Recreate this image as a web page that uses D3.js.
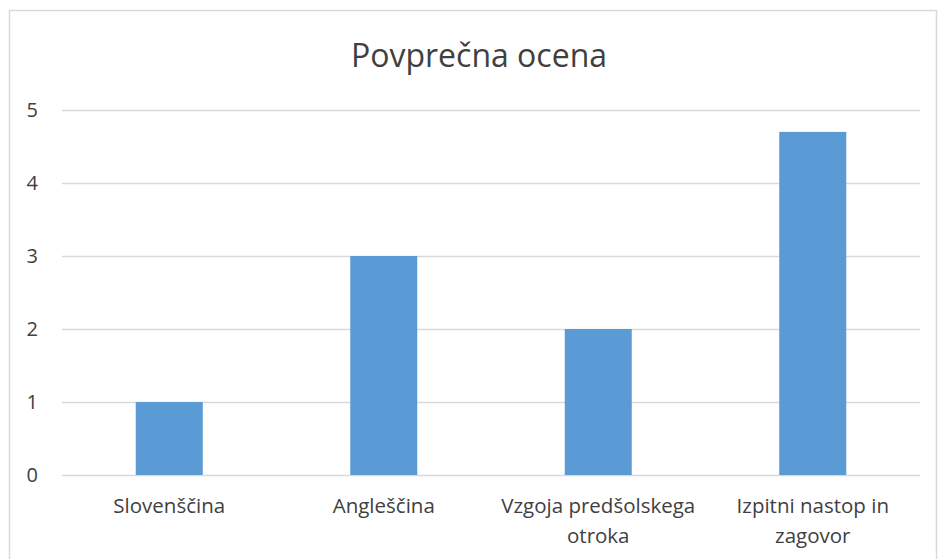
<!DOCTYPE html>
<html>
<head>
<meta charset="utf-8">
<script src="https://cdn.jsdelivr.net/npm/d3@7"></script>
<style>
  body { margin: 0; background: #fff; }
  text { font-family: "Open Sans", "Liberation Sans", sans-serif; fill: #404040; }
</style>
</head>
<body>
<div id="chart"></div>
<script>
// data
var categories = ["Slovenščina", "Angleščina", "Vzgoja predšolskega otroka", "Izpitni nastop in zagovor"];
var labelLines = [["Slovenščina"], ["Angleščina"], ["Vzgoja predšolskega", "otroka"], ["Izpitni nastop in", "zagovor"]];
var values = [1, 3, 2, 4.7];
var yTicks = [0, 1, 2, 3, 4, 5];
var title = "Povprečna ocena";

var W = 938, H = 559;
var margin = {top: 110, right: 18, bottom: 84, left: 62},
    width = W - margin.left - margin.right,
    height = H - margin.top - margin.bottom;

var root = d3.select("#chart")
  .append("svg")
    .attr("width", W)
    .attr("height", H);

// outer border
root.append("rect")
  .attr("x", 9.5).attr("y", 10.5)
  .attr("width", 927).attr("height", 560)
  .attr("fill", "none")
  .attr("stroke", "#d9d9d9")
  .attr("stroke-width", 1.5);

root.append("text")
  .attr("x", 479).attr("y", 67)
  .attr("text-anchor", "middle")
  .style("font-size", "32px")
  .text(title);

var svg = root.append("g")
  .attr("transform", "translate(" + margin.left + "," + margin.top + ")");

var x = d3.scaleBand()
  .domain(categories)
  .range([0, width])
  .paddingInner(0.6875)
  .paddingOuter(0.34375);

var y = d3.scaleLinear()
  .domain([0, 5])
  .range([height, 0]);

// gridlines
svg.selectAll("line.grid")
  .data(yTicks)
  .enter()
  .append("line")
    .attr("x1", 0)
    .attr("x2", width)
    .attr("y1", function(d) { return y(d) + 0.5; })
    .attr("y2", function(d) { return y(d) + 0.5; })
    .attr("stroke", "#d9d9d9")
    .attr("stroke-width", 1.5);

// y labels
svg.selectAll("text.ytick")
  .data(yTicks)
  .enter()
  .append("text")
    .attr("x", -24)
    .attr("y", function(d) { return y(d); })
    .attr("dy", "0.36em")
    .attr("text-anchor", "end")
    .style("font-size", "20px")
    .text(function(d) { return d; });

// bars
svg.selectAll("rect.bar")
  .data(values)
  .enter()
  .append("rect")
    .attr("x", function(d, i) { return x(categories[i]); })
    .attr("y", function(d) { return y(d); })
    .attr("width", x.bandwidth())
    .attr("height", function(d) { return y(0) - y(d); })
    .attr("fill", "#5b9bd5");

// category labels
var lab = svg.selectAll("text.cat")
  .data(labelLines)
  .enter()
  .append("text")
    .attr("text-anchor", "middle")
    .attr("transform", function(d, i) {
      return "translate(" + (x(categories[i]) + x.bandwidth() / 2) + "," + (height + 38) + ")";
    })
    .style("font-size", "20.5px");

lab.selectAll("tspan")
  .data(function(d) { return d; })
  .enter()
  .append("tspan")
    .attr("x", 0)
    .attr("dy", function(d, i) { return i === 0 ? 0 : 30; })
    .text(function(d) { return d; });
</script>
</body>
</html>
